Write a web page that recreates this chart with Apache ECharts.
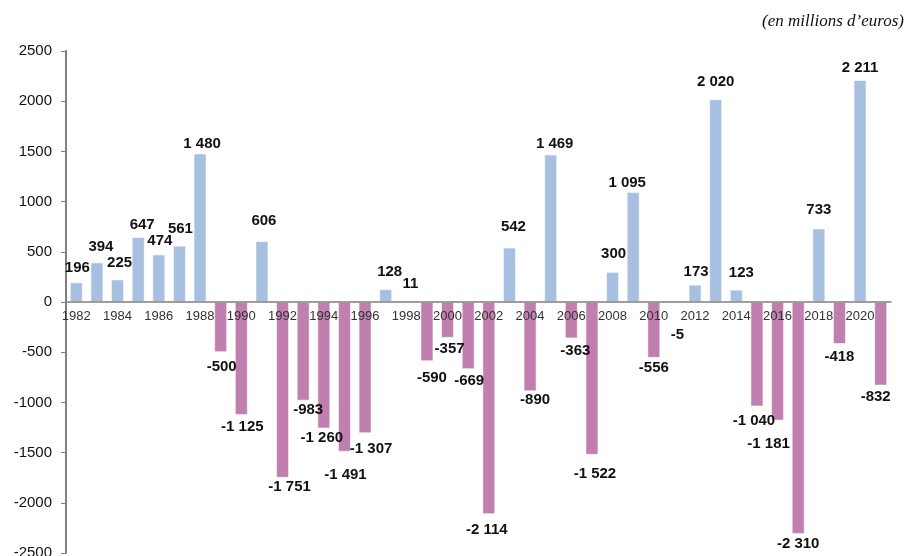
<!DOCTYPE html>
<html>
<head>
<meta charset="utf-8">
<script src="https://cdn.jsdelivr.net/npm/echarts@6/dist/echarts.min.js"></script>
<style>
  html, body { margin: 0; padding: 0; background: #fff; }
  #chart { width: 911px; height: 556px; }
</style>
</head>
<body>
<div id="chart"></div>
<script>
// years and yearly balance (millions of euros)
var years = [];
for (var y = 1982; y <= 2021; y++) years.push(String(y));

var values = [
  196, 394, 225, 647, 474, 561, 1480, -500, -1125, 606,
  -1751, -983, -1260, -1491, -1307, 128, 11, -590, -357, -669,
  -2114, 542, -890, 1469, -363, -1522, 300, 1095, -556, -5,
  173, 2020, 123, -1040, -1181, -2310, 733, -418, 2211, -832
];

var yTicks = [-2500, -2000, -1500, -1000, -500, 0, 500, 1000, 1500, 2000, 2500];

// small hand nudges of the value labels, like in the original figure [dx, dy]
var labelNudge = {
  "1982": [1, -1], "1983": [4, -2], "1984": [2, -3], "1985": [4, 1], "1986": [1, 0],
  "1987": [1, -3], "1988": [2, 4], "1989": [1, 3], "1990": [1, 0], "1991": [2, -7],
  "1992": [7, -2], "1993": [5, -2], "1994": [-2, -2], "1995": [1, 12], "1996": [6, 4],
  "1997": [4, -4], "1998": [4, -4], "1999": [5, 5], "2000": [2, 0], "2001": [1, 0],
  "2002": [-2, 4], "2003": [4, -7], "2004": [5, -3], "2005": [4, 3], "2006": [4, 1],
  "2007": [3, 8], "2008": [1, -5], "2009": [-6, 4], "2010": [0, -1], "2011": [3, 21],
  "2012": [1, 1], "2013": [0, -4], "2014": [5, -3], "2015": [-3, 3], "2016": [-9, 12],
  "2017": [0, -2], "2018": [0, -5], "2019": [0, 1], "2020": [0, 1], "2021": [-5, 0]
};

var POS = "#a7bfe1";
var NEG = "#c07fae";

var GRID_TOP = 51, GRID_BOTTOM = 3, CHART_H = 556;
// the x axis sits on the zero line, half way down the symmetric range
var zeroShift = -(CHART_H - GRID_TOP - GRID_BOTTOM) / 2;

function fmt(v) {
  var s = String(Math.abs(v)).replace(/\B(?=(\d{3})+(?!\d))/g, " ");
  return (v < 0 ? "-" : "") + s;
}

var barData = values.map(function (v, i) {
  var n = labelNudge[years[i]] || [0, 0];
  return {
    value: v,
    itemStyle: { color: v >= 0 ? POS : NEG },
    label: {
      position: v >= 0 ? "top" : "bottom",
      distance: v >= 0 ? 6 : 4,
      offset: n
    }
  };
});

var myChart = echarts.init(document.getElementById('chart'));
option = {
  animation: false,
  title: {
    text: "(en millions d\u2019euros)",
    right: 2,
    top: 8,
    textStyle: {
      fontFamily: "Liberation Serif",
      fontStyle: "italic",
      fontWeight: "normal",
      fontSize: 17,
      color: "#111"
    }
  },
  grid: {
    left: 66,
    right: 20,
    top: GRID_TOP,
    bottom: GRID_BOTTOM,
    outerBoundsMode: "none"
  },
  xAxis: {
    type: "category",
    data: years,
    position: "bottom",
    offset: zeroShift,
    z: 5,
    axisLine: {
      onZero: false,
      lineStyle: { color: "#7f7f7f", width: 1.5 }
    },
    axisTick: {
      interval: 1,
      length: 4,
      lineStyle: { color: "#7f7f7f" }
    },
    axisLabel: {
      interval: 1,
      margin: 8,
      fontFamily: "Liberation Sans",
      fontSize: 13,
      color: "#333"
    }
  },
  yAxis: {
    type: "value",
    min: yTicks[0],
    max: yTicks[yTicks.length - 1],
    interval: 500,
    splitLine: { show: false },
    axisLine: {
      show: true,
      lineStyle: { color: "#7f7f7f", width: 2 }
    },
    axisTick: {
      show: true,
      length: 5,
      lineStyle: { color: "#7f7f7f" }
    },
    axisLabel: {
      margin: 14,
      fontFamily: "Liberation Sans",
      fontSize: 15,
      color: "#111",
      formatter: function (v) { return String(v); }
    }
  },
  series: [
    {
      type: "bar",
      data: barData,
      barWidth: 13,
      itemStyle: {
        borderColor: "rgba(255,255,255,0.55)",
        borderWidth: 1
      },
      label: {
        show: true,
        fontFamily: "Liberation Sans",
        fontWeight: "bold",
        fontSize: 15,
        color: "#111",
        formatter: function (p) { return fmt(p.value); }
      }
    }
  ]
};

myChart.setOption(option);
</script>
</body>
</html>
